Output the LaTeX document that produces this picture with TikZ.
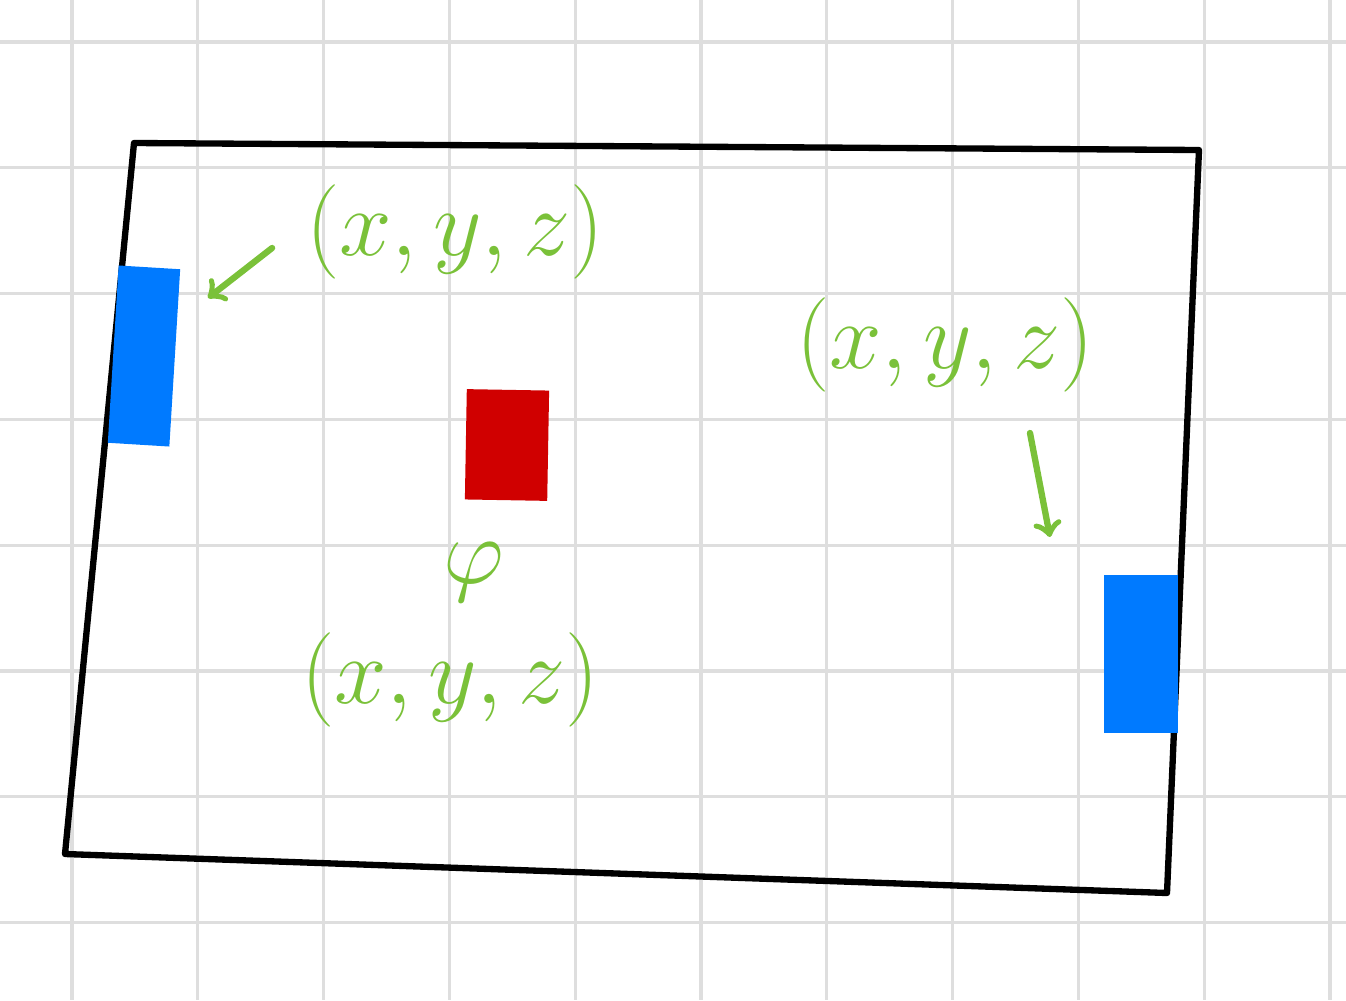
\documentclass[tikz,border=0pt]{standalone}
\usepackage{amsmath}
\usepackage{amssymb}
\usepackage{tikz}
\definecolor{pengreen}{RGB}{122,193,57}
\definecolor{penblue}{RGB}{0,122,255}
\definecolor{penred}{RGB}{208,0,0}
\definecolor{gridgray}{RGB}{222,222,222}

\begin{document}
\begin{tikzpicture}[x=0.1mm,y=-0.1mm,
  hand/.style={text=pengreen,font=\Huge,scale=1.08,transform shape},
  pin/.style={draw=pengreen,line width=1.8pt,line cap=round,->},
  panel/.style={draw=penblue,fill=penblue,line width=1.6pt,inner sep=0pt}]
  \useasboundingbox (0,0) rectangle (1346,1000);
  % paper grid
  \foreach \k in {0,...,10}
    \draw [gridgray,line width=0.9pt] (72+125.8*\k,0) -- (72+125.8*\k,1000);
  \foreach \k in {0,...,7}
    \draw [gridgray,line width=0.9pt] (0,42+125.8*\k) -- (1346,42+125.8*\k);
  % room outline
  \draw [line width=1.8pt,line join=round] (134,143) -- (1199,150) -- (1167,893) -- (65,854) -- cycle;
  \node [] (panelL) [panel,minimum width=5.6mm,minimum height=17.2mm,rotate=-3.5] at (144,356) {};
  \node [] (panelR) [panel,minimum width=6.8mm,minimum height=15.2mm] at (1141,654) {};
  \node [] (target) [draw=penred,fill=penred,line width=1.8pt,inner sep=0pt,
    minimum width=7.6mm,minimum height=10.4mm,rotate=-1] at (507,445) {};
  \node [] (labA) [hand] at (455,232) {$(x,y,z)$};
  \node [] (labB) [hand] at (945,345) {$(x,y,z)$};
  \node [] (labC) [hand] at (450,680) {$(x,y,z)$};
  \node [] (labPhi) [hand] at (474,572) {$\varphi$};
  \coordinate (tipA) at (208,298);
  \coordinate (tailB) at (1030,433);
  \coordinate (tipB) at (1050,537);
  \path
  (labA.west) edge [pin,shorten <=2.6mm] (tipA)
  (tailB) edge [pin] (tipB);
\end{tikzpicture}
\end{document}
